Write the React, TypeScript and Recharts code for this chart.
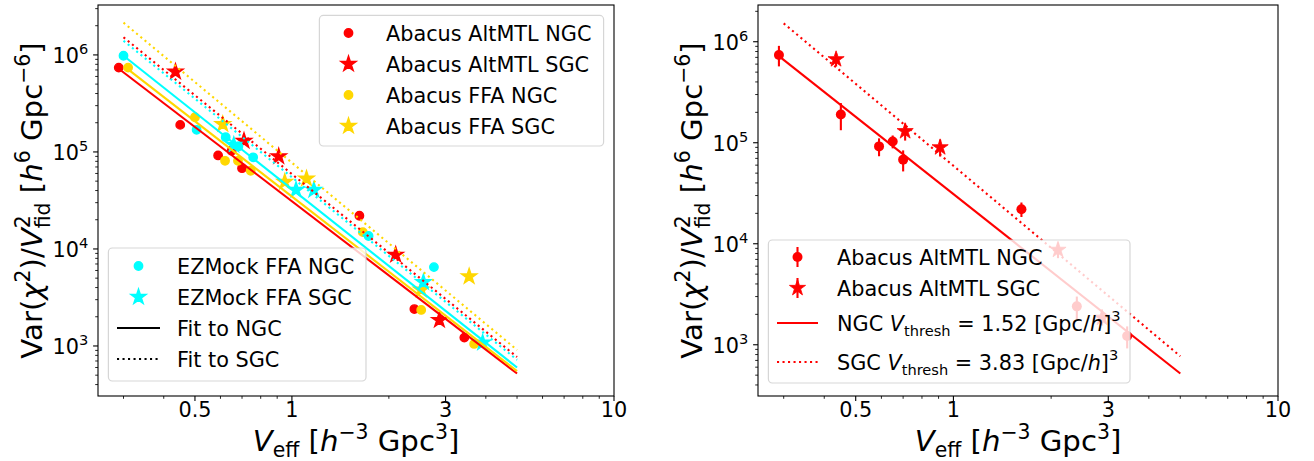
import React from "react";
import { ScatterChart, Scatter, XAxis, YAxis, ErrorBar } from "recharts";

const FONT = "'DejaVu Sans', sans-serif";
const RED = "#ff0000";
const GOLD = "#ffd700";
const CYAN = "#00ffff";

// effective volume V_eff [h^-3 Gpc^3] against Var(chi^2)/V_fid^2
const altmtlNgcV = [0.29, 0.45, 0.59, 0.65, 0.7, 1.62, 2.4, 3.43];
const altmtlNgcVar = [7.4e5, 1.9e5, 9.2e4, 1.03e5, 6.8e4, 2.2e4, 2.4e3, 1.22e3];
const altmtlNgcErr = [1.7e5, 5.7e4, 1.85e4, 1.5e4, 1.6e4, 3.6e3, 6e2, 3e2];

const altmtlSgcV = [0.435, 0.71, 0.91, 2.1, 2.87];
const altmtlSgcVar = [6.7e5, 1.3e5, 9.0e4, 8.7e3, 1.85e3];
const altmtlSgcErr = [1.0e5, 2.5e4, 1.7e4, 1.5e3, 3e2];

const ffaNgcV = [0.31, 0.5, 0.62, 0.68, 0.745, 1.66, 2.52, 3.68];
const ffaNgcVar = [7.4e5, 2.28e5, 8.1e4, 8.1e4, 6.4e4, 1.49e4, 2.35e3, 1.05e3];

const ffaSgcV = [0.61, 0.95, 1.11, 2.52, 3.55];
const ffaSgcVar = [1.93e5, 4.9e4, 5.3e4, 3.8e3, 5.2e3];

const ezNgcV = [0.3, 0.506, 0.623, 0.682, 0.758, 1.73, 2.76];
const ezNgcVar = [9.8e5, 1.69e5, 1.42e5, 1.14e5, 8.8e4, 1.36e4, 6.5e3];

const ezSgcV = [0.66, 1.03, 1.17, 2.56, 3.91];
const ezSgcVar = [1.18e5, 4.06e4, 4.06e4, 4.54e3, 1.08e3];

// power-law fits, end points only (straight in log-log)
const altmtlNgcFitV = [0.29, 5];
const altmtlNgcFit = [7.2e5, 5.2e2];
const altmtlSgcFitV = [0.3, 5];
const altmtlSgcFit = [1.52e6, 7.7e2];
const ffaNgcFitV = [0.31, 5];
const ffaNgcFit = [7.1e5, 5.5e2];
const ffaSgcFitV = [0.3, 5];
const ffaSgcFit = [2.15e6, 9.1e2];
const ezNgcFitV = [0.3, 5];
const ezNgcFit = [9.8e5, 6.0e2];
const ezSgcFitV = [0.3, 5];
const ezSgcFit = [1.4e6, 7.2e2];

// axes
const X_DOMAIN = [0.25, 10];
const X_LABELED = [0.5, 1, 3, 10];
const X_MINOR = [0.3, 0.4, 0.6, 0.7, 0.8, 0.9, 2, 4, 5, 6, 7, 8, 9];
const Y_LABELED = [1e3, 1e4, 1e5, 1e6];
const Y_DOMAIN_LEFT = [305, 3.27e6];
const Y_DOMAIN_RIGHT = [311, 2.31e6];

const legendUpper = ["Abacus AltMTL NGC", "Abacus AltMTL SGC", "Abacus FFA NGC", "Abacus FFA SGC"];
const legendLower = ["EZMock FFA NGC", "EZMock FFA SGC", "Fit to NGC", "Fit to SGC"];
const legendRight = ["Abacus AltMTL NGC", "Abacus AltMTL SGC"];
const vThreshNgc = "1.52";
const vThreshSgc = "3.83";

// layout
const W = 1314;
const H = 461;
const TOP = 5;
const BOTTOM = 396;
const PLOT_LEFT = 98;
const LEFT_W = 660;
const LEFT_X1 = 614;
const RIGHT_OFF = 660;
const RIGHT_W = 654;
const RIGHT_X1 = 1278;
const X_AXIS_H = 60;
const Y_AXIS_W = 90;
const MAJOR = 4.9;
const MINOR = 2.8;
const TICK_FS = 20.8;
const LABEL_FS = 29.2;
const LABEL_SUB = 20.4;
const SUP = 12;

const yTicks = (dom: number[]) => {
  const out: number[] = [];
  for (let d = 2; d <= 6; d++) {
    for (let k = 1; k <= 9; k++) {
      const v = k * Math.pow(10, d);
      if (v >= dom[0] && v <= dom[1]) out.push(v);
    }
  }
  return out;
};
const X_TICKS = [...X_LABELED, ...X_MINOR].sort((a, b) => a - b);

type Pt = { x: number; y: number; err?: number };
const toPoints = (xs: number[], ys: number[], errs?: number[]): Pt[] =>
  xs.map((x, i) => ({ x, y: ys[i], err: errs ? errs[i] : undefined }));

const starPath = (cx: number, cy: number, R: number) => {
  const r = R * 0.381966;
  let d = "";
  for (let i = 0; i < 10; i++) {
    const a = -Math.PI / 2 + (i * Math.PI) / 5;
    const rr = i % 2 === 0 ? R : r;
    d += (i === 0 ? "M" : "L") + (cx + rr * Math.cos(a)).toFixed(2) + "," + (cy + rr * Math.sin(a)).toFixed(2);
  }
  return d + "Z";
};

const dot = (color: string, r: number, sw = 1.4) => (p: any) => (
  <circle cx={p.cx} cy={p.cy} r={r} fill={color} stroke={color} strokeWidth={sw} />
);
const star = (color: string, R: number, sw = 1.4) => (p: any) => (
  <path d={starPath(p.cx, p.cy, R)} fill={color} stroke={color} strokeWidth={sw} />
);
const noMark = () => <g />;

const XTick = (props: any) => {
  const { x, y, payload } = props;
  const v = payload.value;
  const major = X_LABELED.includes(v);
  return (
    <g>
      <line x1={x} x2={x} y1={y} y2={y + (major ? MAJOR : MINOR)} stroke="#000" strokeWidth={major ? 1.1 : 0.85} />
      {major && (
        <text x={x} y={y + 20.5} textAnchor="middle" fontFamily={FONT} fontSize={TICK_FS} fill="#000">
          {v}
        </text>
      )}
    </g>
  );
};

const YTick = (props: any) => {
  const { x, y, payload } = props;
  const v = payload.value;
  const major = Y_LABELED.includes(v);
  return (
    <g>
      <line x1={x - (major ? MAJOR : MINOR)} x2={x} y1={y} y2={y} stroke="#000" strokeWidth={major ? 1.1 : 0.85} />
      {major && (
        <text x={x - 9.8} y={y + 8.5} textAnchor="end" fontFamily={FONT} fontSize={TICK_FS} fill="#000">
          10
          <tspan dy={-9.5} fontSize={14.6}>
            {Math.round(Math.log10(v))}
          </tspan>
        </text>
      )}
    </g>
  );
};

const axes = (yDom: number[]) => [
  <XAxis
    key="x"
    type="number"
    dataKey="x"
    scale="log"
    domain={X_DOMAIN}
    allowDataOverflow
    ticks={X_TICKS}
    interval={0}
    tick={<XTick />}
    tickLine={false}
    axisLine={false}
    tickSize={0}
    tickMargin={0}
    height={X_AXIS_H}
  />,
  <YAxis
    key="y"
    type="number"
    dataKey="y"
    scale="log"
    domain={yDom}
    allowDataOverflow
    ticks={yTicks(yDom)}
    interval={0}
    tick={<YTick />}
    tickLine={false}
    axisLine={false}
    tickSize={0}
    tickMargin={0}
    width={Y_AXIS_W}
  />,
];

const fitLine = (xs: number[], ys: number[], color: string, dotted: boolean, key: string) => (
  <Scatter
    key={key}
    data={toPoints(xs, ys)}
    line={{ stroke: color, strokeWidth: 2.1, fill: "none", strokeDasharray: dotted ? "2.1 3.4" : undefined }}
    shape={noMark}
    isAnimationActive={false}
  />
);

// axis titles
const XLabel = ({ cx }: { cx: number }) => (
  <text x={cx} y={451} textAnchor="middle" fontFamily={FONT} fontSize={LABEL_FS}>
    <tspan fontStyle="italic">V</tspan>
    <tspan fontSize={LABEL_SUB} dy={6}>eff</tspan>
    <tspan dy={-6}> [</tspan>
    <tspan fontStyle="italic">h</tspan>
    <tspan fontSize={LABEL_SUB} dy={-SUP}>−3</tspan>
    <tspan dy={SUP}> Gpc</tspan>
    <tspan fontSize={LABEL_SUB} dy={-SUP}>3</tspan>
    <tspan dy={SUP}>]</tspan>
  </text>
);

const YLabel = ({ bx }: { bx: number }) => (
  <text
    transform={`translate(${bx},${(TOP + BOTTOM) / 2}) rotate(-90)`}
    textAnchor="middle"
    fontFamily={FONT}
    fontSize={LABEL_FS}
  >
    Var(
    <tspan fontStyle="italic">χ</tspan>
    <tspan fontSize={LABEL_SUB} dy={-SUP}>2</tspan>
    <tspan dy={SUP}>)/</tspan>
    <tspan fontStyle="italic">V</tspan>
    <tspan fontSize={LABEL_SUB} dy={-SUP}>2</tspan>
    <tspan fontSize={LABEL_SUB} dx={-13} dy={SUP + 8}>fid</tspan>
    <tspan dy={-8}> [</tspan>
    <tspan fontStyle="italic">h</tspan>
    <tspan fontSize={LABEL_SUB} dy={-SUP}>6</tspan>
    <tspan dy={SUP}> Gpc</tspan>
    <tspan fontSize={LABEL_SUB} dy={-SUP}>−6</tspan>
    <tspan dy={SUP}>]</tspan>
  </text>
);

const Frame = ({ x, y, w, h }: { x: number; y: number; w: number; h: number }) => (
  <rect x={x} y={y} width={w} height={h} rx={4} fill="#fff" fillOpacity={0.8} stroke="#cccccc" strokeOpacity={0.8} strokeWidth={1.2} />
);

const LegendText = ({ x, y, children }: any) => (
  <text x={x} y={y + 7.5} fontFamily={FONT} fontSize={TICK_FS}>
    {children}
  </text>
);

const ThreshLabel = ({ x, y, region, val }: { x: number; y: number; region: string; val: string }) => (
  <text x={x} y={y + 7.5} fontFamily={FONT} fontSize={TICK_FS}>
    {region} <tspan fontStyle="italic">V</tspan>
    <tspan fontSize={14.6} dy={5}>thresh</tspan>
    <tspan dy={-5}> = {val} [Gpc/</tspan>
    <tspan fontStyle="italic">h</tspan>]<tspan fontSize={14.6} dy={-9.5}>3</tspan>
  </text>
);

export default function App() {
  const upRows = [33, 64, 95, 126];
  const lowRows = [266, 297, 328, 359];
  const rRows = [257, 288, 323, 362];
  return (
    <div style={{ position: "absolute", left: 0, top: 0, width: W, height: H, background: "#fff" }}>
      {/* left panel: all mock samples with their fits */}
      <div style={{ position: "absolute", left: 0, top: 0 }}>
        <ScatterChart
          width={LEFT_W}
          height={H}
          margin={{ top: TOP, right: LEFT_W - LEFT_X1, bottom: H - BOTTOM - X_AXIS_H, left: PLOT_LEFT - Y_AXIS_W }}
        >
          {axes(Y_DOMAIN_LEFT)}
          <Scatter data={toPoints(altmtlNgcV, altmtlNgcVar)} shape={dot(RED, 4.2)} isAnimationActive={false} />
          <Scatter data={toPoints(altmtlSgcV, altmtlSgcVar)} shape={star(RED, 8)} isAnimationActive={false} />
          <Scatter data={toPoints(ffaNgcV, ffaNgcVar)} shape={dot(GOLD, 4.2)} isAnimationActive={false} />
          <Scatter data={toPoints(ffaSgcV, ffaSgcVar)} shape={star(GOLD, 8)} isAnimationActive={false} />
          <Scatter data={toPoints(ezNgcV, ezNgcVar)} shape={dot(CYAN, 4.2)} isAnimationActive={false} />
          <Scatter data={toPoints(ezSgcV, ezSgcVar)} shape={star(CYAN, 8)} isAnimationActive={false} />
          {fitLine(altmtlNgcFitV, altmtlNgcFit, RED, false, "a")}
          {fitLine(altmtlSgcFitV, altmtlSgcFit, RED, true, "b")}
          {fitLine(ffaNgcFitV, ffaNgcFit, GOLD, false, "c")}
          {fitLine(ffaSgcFitV, ffaSgcFit, GOLD, true, "d")}
          {fitLine(ezNgcFitV, ezNgcFit, CYAN, false, "e")}
          {fitLine(ezSgcFitV, ezSgcFit, CYAN, true, "f")}
        </ScatterChart>
      </div>

      {/* right panel: AltMTL with error bars and threshold fits */}
      <div style={{ position: "absolute", left: RIGHT_OFF, top: 0 }}>
        <ScatterChart
          width={RIGHT_W}
          height={H}
          margin={{
            top: TOP,
            right: RIGHT_W - (RIGHT_X1 - RIGHT_OFF),
            bottom: H - BOTTOM - X_AXIS_H,
            left: PLOT_LEFT - Y_AXIS_W,
          }}
        >
          {axes(Y_DOMAIN_RIGHT)}
          <Scatter data={toPoints(altmtlNgcV, altmtlNgcVar, altmtlNgcErr)} shape={dot(RED, 5, 0)} isAnimationActive={false}>
            <ErrorBar dataKey="err" direction="y" width={0} stroke={RED} strokeWidth={2.1} />
          </Scatter>
          <Scatter data={toPoints(altmtlSgcV, altmtlSgcVar, altmtlSgcErr)} shape={star(RED, 8.5, 0.8)} isAnimationActive={false}>
            <ErrorBar dataKey="err" direction="y" width={0} stroke={RED} strokeWidth={2.1} />
          </Scatter>
          {fitLine(altmtlNgcFitV, altmtlNgcFit, RED, false, "g")}
          {fitLine(altmtlSgcFitV, altmtlSgcFit, RED, true, "h")}
        </ScatterChart>
      </div>

      {/* frames, titles and legends drawn on top */}
      <svg width={W} height={H} style={{ position: "absolute", left: 0, top: 0, pointerEvents: "none" }}>
        <rect x={PLOT_LEFT} y={TOP} width={LEFT_X1 - PLOT_LEFT} height={BOTTOM - TOP} fill="none" stroke="#000" strokeWidth={1.1} />
        <rect
          x={RIGHT_OFF + PLOT_LEFT}
          y={TOP}
          width={RIGHT_X1 - RIGHT_OFF - PLOT_LEFT}
          height={BOTTOM - TOP}
          fill="none"
          stroke="#000"
          strokeWidth={1.1}
        />
        <XLabel cx={(PLOT_LEFT + LEFT_X1) / 2} />
        <XLabel cx={(RIGHT_OFF + PLOT_LEFT + RIGHT_X1) / 2} />
        <YLabel bx={42} />
        <YLabel bx={RIGHT_OFF + 42} />

        {/* left panel, upper legend */}
        <Frame x={319.4} y={15.4} w={284.2} h={130.6} />
        <circle cx={348.5} cy={upRows[0]} r={4.2} fill={RED} stroke={RED} strokeWidth={1.4} />
        <path d={starPath(348.5, upRows[1], 8)} fill={RED} stroke={RED} strokeWidth={1.4} />
        <circle cx={348.5} cy={upRows[2]} r={4.2} fill={GOLD} stroke={GOLD} strokeWidth={1.4} />
        <path d={starPath(348.5, upRows[3], 8)} fill={GOLD} stroke={GOLD} strokeWidth={1.4} />
        {legendUpper.map((t, i) => (
          <LegendText key={t} x={386} y={upRows[i]}>
            {t}
          </LegendText>
        ))}

        {/* left panel, lower legend */}
        <Frame x={108.4} y={248} w={257.6} h={133} />
        <circle cx={138.5} cy={lowRows[0]} r={4.2} fill={CYAN} stroke={CYAN} strokeWidth={1.4} />
        <path d={starPath(138.5, lowRows[1], 8)} fill={CYAN} stroke={CYAN} strokeWidth={1.4} />
        <line x1={117} x2={160} y1={lowRows[2]} y2={lowRows[2]} stroke="#000" strokeWidth={2.1} />
        <line x1={117} x2={160} y1={lowRows[3]} y2={lowRows[3]} stroke="#000" strokeWidth={2.1} strokeDasharray="2.1 3.4" />
        {legendLower.map((t, i) => (
          <LegendText key={t} x={177} y={lowRows[i]}>
            {t}
          </LegendText>
        ))}

        {/* right panel legend */}
        <Frame x={768.4} y={240} w={361.6} h={143} />
        <line x1={797.5} x2={797.5} y1={rRows[0] - 10} y2={rRows[0] + 10} stroke={RED} strokeWidth={2.1} />
        <circle cx={797.5} cy={rRows[0]} r={5} fill={RED} />
        <line x1={797.5} x2={797.5} y1={rRows[1] - 10} y2={rRows[1] + 10} stroke={RED} strokeWidth={2.1} />
        <path d={starPath(797.5, rRows[1], 8.5)} fill={RED} stroke={RED} strokeWidth={0.8} />
        <line x1={777} x2={818} y1={rRows[2]} y2={rRows[2]} stroke={RED} strokeWidth={2.1} />
        <line x1={777} x2={818} y1={rRows[3]} y2={rRows[3]} stroke={RED} strokeWidth={2.1} strokeDasharray="2.1 3.4" />
        {legendRight.map((t, i) => (
          <LegendText key={t} x={837} y={rRows[i]}>
            {t}
          </LegendText>
        ))}
        <ThreshLabel x={837} y={rRows[2]} region="NGC" val={vThreshNgc} />
        <ThreshLabel x={837} y={rRows[3]} region="SGC" val={vThreshSgc} />
      </svg>
    </div>
  );
}
